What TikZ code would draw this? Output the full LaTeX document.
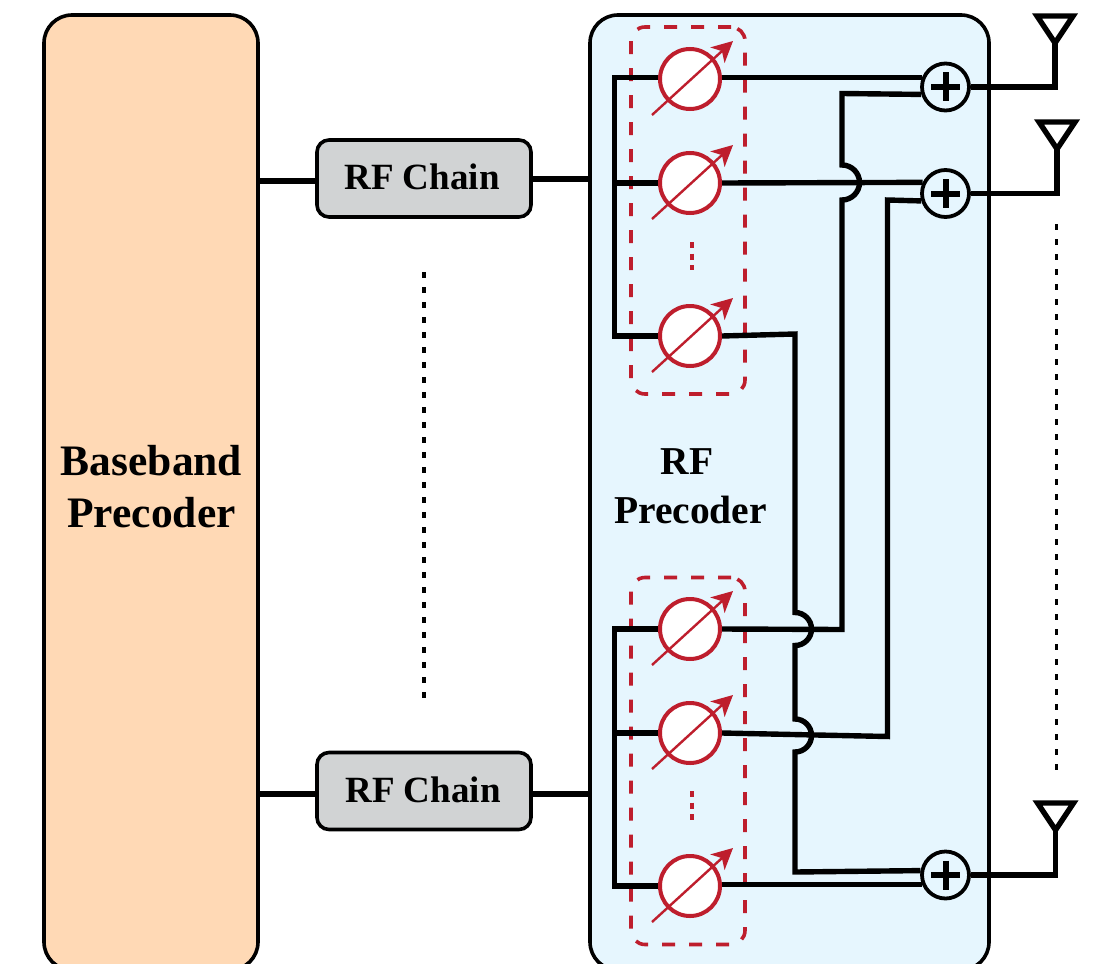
\documentclass[tikz,border=0pt]{standalone}
\usepackage{fontspec}
\setmainfont{Liberation Serif}
\usetikzlibrary{arrows.meta, positioning}
\definecolor{bbpeach}{HTML}{FFD9B5}
\definecolor{rfblue}{HTML}{E6F6FE}
\definecolor{chaingray}{HTML}{D1D3D4}
\definecolor{psred}{HTML}{BE1E2D}
\tikzset{
    wire/.style={line width=5.4pt, black, line join=miter},
    bigbox/.style={draw=black, line width=3.6pt, rounded corners=28pt, minimum width=214pt, minimum height=955pt, inner sep=0pt},
    chainbox/.style={draw=black, line width=3.6pt, rounded corners=12pt, fill=chaingray, minimum width=214pt, minimum height=77pt, inner sep=0pt, font=\bfseries\fontsize{37}{40}\selectfont},
    shifter/.style={circle, draw=psred, line width=4pt, fill=white, minimum size=60pt, inner sep=0pt},
    psgroup/.style={draw=psred, line width=3.6pt, rounded corners=14pt, dash pattern=on 13pt off 14pt, minimum width=114pt, minimum height=367pt, inner sep=0pt},
    adder/.style={circle, draw=black, line width=3.8pt, fill=rfblue, minimum size=47pt, inner sep=0pt},
    dotline/.style={black, line width=3.6pt, dash pattern=on 6pt off 9pt},
    reddots/.style={psred, line width=3.8pt, dash pattern=on 6pt off 5.5pt},
    labeltxt/.style={font=\bfseries, align=center, inner sep=0pt}
}
\begin{document}
\begin{tikzpicture}[x=1pt, y=-1pt]
    \useasboundingbox (0,0) rectangle (1094,963);
    % Blocks
    \node[bigbox, fill=bbpeach] (bb) at (151,492.5) {};
    \node[bigbox, fill=rfblue, minimum width=399pt] (rfp) at (789.5,492.5) {};
    \node[chainbox] (chain1) at (424,178.5) {};
    \node[chainbox] (chain2) at (424,791) {};
    \node[labeltxt, font=\bfseries\fontsize{37}{40}\selectfont] (chain1txt) at (422,176.5) {RF Chain};
    \node[labeltxt, font=\bfseries\fontsize{37}{40}\selectfont] (chain2txt) at (423,789.5) {RF Chain};
    \node[labeltxt, font=\bfseries\fontsize{43.5}{52}\selectfont] (bblabel) at (151.5,487) {Baseband\\Precoder};
    \node[labeltxt, font=\bfseries\fontsize{39.5}{49}\selectfont] (rflabel) at (690.5,486) {\hspace*{-7pt}RF\\Precoder};
    % Phase shifter groups
    \node[psgroup] (group1) at (688,210.5) {};
    \node[psgroup] (group2) at (688,761) {};
    \foreach \nm/\yy in {ps1/79, ps2/183, ps3/336, ps4/629, ps5/733, ps6/886} {
        \node[shifter] (\nm) at (690,\yy) {};
        \draw[psred, line width=2.4pt, -{Stealth[length=21pt, width=21pt, inset=6pt]}] (\nm) ++(-38,36) -- ++(81,-74);
    }
    \coordinate (dots1a) at (692,242);
    \coordinate (dots1b) at (692,270);
    \coordinate (dots2a) at (692,791);
    \coordinate (dots2b) at (692,820);
    \draw[reddots] (dots1a) -- (dots1b);
    \draw[reddots] (dots2a) -- (dots2b);
    % Adders
    \foreach \nm/\yy in {add1/87, add2/193.5, add3/875} {
        \node[adder] (\nm) at (945.5,\yy) {};
        \draw[black, line width=6pt] (\nm) ++(-14.5,0) -- ++(29,0);
        \draw[black, line width=6pt] (\nm) ++(0,-14.5) -- ++(0,29);
    }
    % RF chain links
    \coordinate (link1) at (259,181);
    \coordinate (link2) at (590,179);
    \coordinate (link3) at (259,794);
    \coordinate (link4) at (590,794);
    \draw[wire] (link1) -- (chain1.west |- link1);
    \draw[wire] (link3) -- (chain2.west |- link3);
    \draw[wire] (chain1.east |- link2) -- (link2);
    \draw[wire] (chain2.east |- link4) -- (link4);
    % Feed lines
    \coordinate (feed1) at (614.5,183);
    \coordinate (feed2) at (614.5,733);
    \draw[wire] (ps1.west |- add1.158) -| (feed1) |- (ps3.west);
    \draw[wire] (ps2.west) -- (feed1);
    \draw[wire] (ps4.west) -| (feed2) |- (ps6.west);
    \draw[wire] (ps5.west) -- (feed2);
    % Outputs
    \coordinate (c1a) at (842,93.5);
    \coordinate (c1b) at (842,165);
    \coordinate (c1c) at (842,629.5);
    \coordinate (c2a) at (887.5,200);
    \coordinate (c2b) at (887.5,736.5);
    \coordinate (c3a) at (795,334);
    \coordinate (c3b) at (795,612.5);
    \coordinate (c3c) at (795,719);
    \coordinate (c3d) at (795,872);
    \draw[wire] (ps1.east |- add1.158) -- (add1.158);
    \draw[wire] (ps2.east) -- (add2.154);
    \draw[wire] (ps6.east |- add3.202) -- (add3.202);
    \draw[wire] (add1.197) -- (c1a) -- (c1b) arc (90:-90:17.5pt) -- (c1c) -- (ps4.east);
    \draw[wire] (add2.197) -- (c2a) -- (c2b) -- (ps5.east);
    \draw[wire] (ps3.east) -- (c3a) -- (c3b) arc (90:-90:16.5pt) -- (c3c) arc (90:-90:16.5pt) -- (c3d) -- (add3.170);
    % Antennas
    \foreach \nm/\tx/\ty/\ad in {ant1/1055/43/add1, ant2/1057/149/add2, ant3/1055.5/830/add3} {
        \coordinate (\nm) at (\tx,\ty);
        \draw[wire] (\ad.east) -| (\nm);
        \draw[wire] (\nm) -- ++(-18,-27) -- ++(36,0) -- cycle;
    }
    % Dotted gaps
    \coordinate (gap1a) at (424,272);
    \coordinate (gap1b) at (424,704);
    \coordinate (gap2a) at (1056.5,224);
    \coordinate (gap2b) at (1056.5,774);
    \draw[dotline] (gap1a) -- (gap1b);
    \draw[dotline] (gap2a) -- (gap2b);
\end{tikzpicture}
\end{document}
